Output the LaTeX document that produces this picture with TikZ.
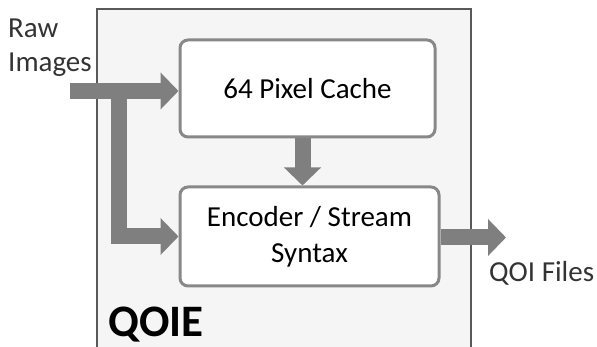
\documentclass[tikz,border=0pt]{standalone}
\usepackage{fontspec}
\setmainfont{Carlito}
\usetikzlibrary{arrows.meta}
\usetikzlibrary{positioning}
\definecolor{arrgray}{HTML}{7F7F7F}
\definecolor{boxgray}{HTML}{888888}
\definecolor{framegray}{HTML}{595959}

\begin{document}
\begin{tikzpicture}[x=1pt, y=-1pt,
	block/.style={draw=boxgray, line width=3pt, rounded corners=8pt, fill=white, align=center, font=\fontsize{29}{36}\selectfont},
	flow/.style={draw=arrgray, line width=16pt, line join=miter, -{Triangle[width=36pt, length=18pt]}},
	lbl/.style={inner sep=0pt, align=left, font=\fontsize{29}{34}\selectfont, text=black!80}]
\useasboundingbox (0,0) rectangle (597,347);
\draw[framegray, line width=1.5pt, fill=black!4] (97,9) rectangle (471,360);
\node[block, minimum width=255pt, minimum height=97pt] (cache) at (307.5,88.5) {64 Pixel Cache};
\node[block, minimum width=259pt, minimum height=99pt] (enc) at (309.5,236.5) {Encoder / Stream\\Syntax};

\node[lbl, anchor=base west] (raw) at (8,72) {Raw\\Images};
\node[lbl, anchor=base west] (qoi) at (489,282) {QOI Files};
\node[inner sep=0pt, anchor=base west, font=\fontsize{45}{45}\selectfont\bfseries] (qoie) at (108,337) {QOIE};

\coordinate (in) at (70,91);
\coordinate (split) at (118.5,91);
\coordinate (out) at (506,237.5);
\draw[flow] (in) -- (cache.west |- in);
\draw[flow] (split) |- (enc.west);
\draw[flow] ([xshift=-5pt]cache.south) -- ([xshift=-7pt]enc.north);
\draw[flow] (enc.east |- out) -- (out);
\end{tikzpicture}
\end{document}
